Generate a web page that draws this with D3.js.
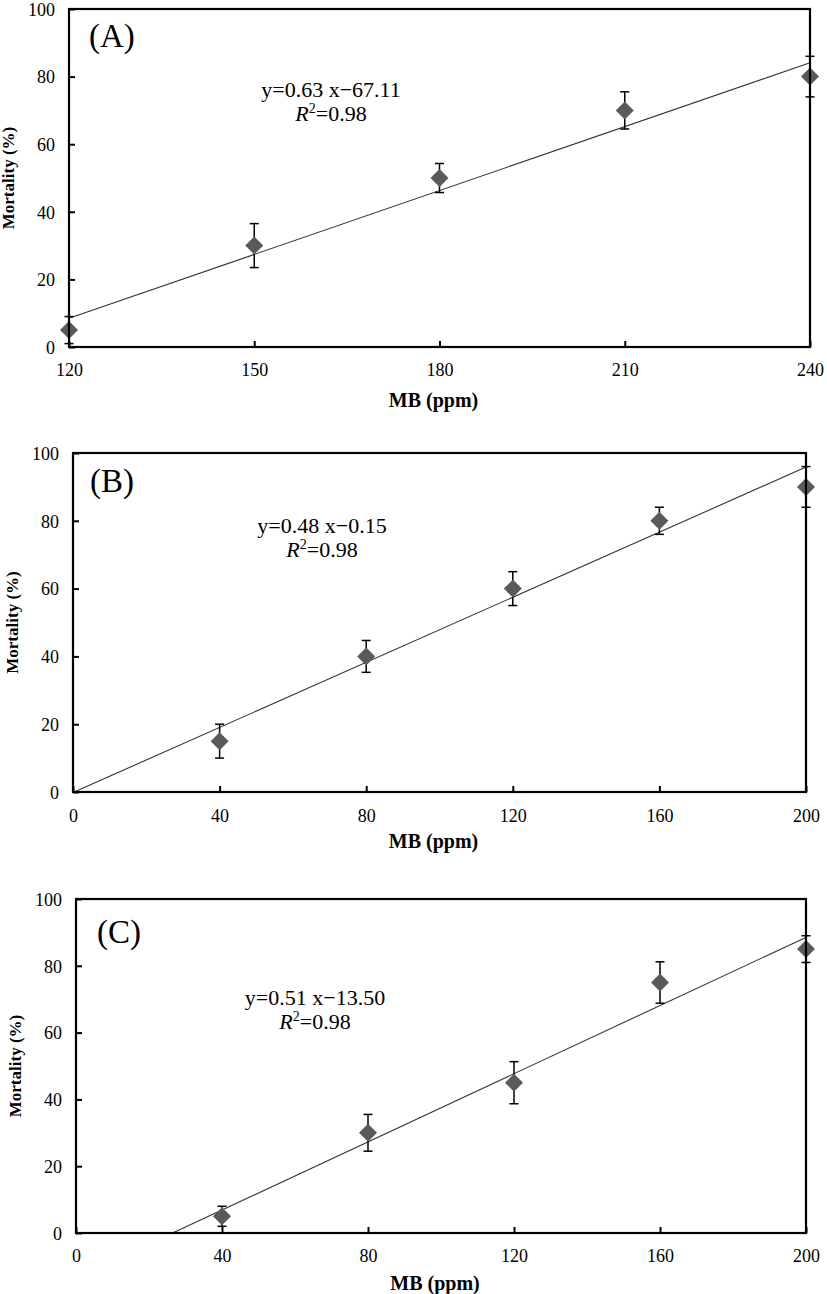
<!DOCTYPE html>
<html><head><meta charset="utf-8">
<script src="https://cdn.jsdelivr.net/npm/d3@7"></script>
<style>
html,body{margin:0;padding:0;background:#fff;}
svg text{font-family:"Liberation Serif","Times New Roman",serif;fill:#000;}
</style></head>
<body><svg id="chart" width="827" height="1294"></svg>
<script>
// ---------- data ----------
const panelLabels = ["(A)", "(B)", "(C)"];
const xTitle = "MB (ppm)";
const yTitle = "Mortality (%)";
const yTicks = [0, 20, 40, 60, 80, 100];

const xTicksA = [120, 150, 180, 210, 240];
const concA = [120, 150, 180, 210, 240];
const mortA = [5, 30, 50, 70, 80];
const errA = [4, 6.5, 4.3, 5.5, 6];

const xTicksB = [0, 40, 80, 120, 160, 200];
const concB = [40, 80, 120, 160, 200];
const mortB = [15, 40, 60, 80, 90];
const errB = [5, 4.7, 5, 4, 6];

const xTicksC = [0, 40, 80, 120, 160, 200];
const concC = [40, 80, 120, 160, 200];
const mortC = [5, 30, 45, 75, 85];
const errC = [3, 5.5, 6.3, 6.2, 4];

const slopes = [0.63, 0.48, 0.51];
const intercepts = [-67.11, -0.15, -13.50];
const eqTexts = ["y=0.63 x\u221267.11", "y=0.48 x\u22120.15", "y=0.51 x\u221213.50"];
const r2Value = "=0.98";

// ---------- layout ----------
const layouts = [
  {left: 69, right: 810, top: 9,   bottom: 347,  eqX: 331, eqY: 97,   labX: 89, labY: 47,  tickY: 376,  titleY: 407},
  {left: 73, right: 806, top: 453, bottom: 792,  eqX: 322, eqY: 533,  labX: 90, labY: 492, tickY: 822,  titleY: 848},
  {left: 76, right: 806, top: 899, bottom: 1233, eqX: 315, eqY: 1005, labX: 97, labY: 943, tickY: 1262, titleY: 1290}
];

const panels = [
  {xTicks: xTicksA, x: concA, y: mortA, e: errA},
  {xTicks: xTicksB, x: concB, y: mortB, e: errB},
  {xTicks: xTicksC, x: concC, y: mortC, e: errC}
];

const svg = d3.select("#chart");

panels.forEach((p, i) => {
  const L = layouts[i];
  const g = svg.append("g");
  const xs = d3.scaleLinear().domain(d3.extent(p.xTicks)).range([L.left, L.right]);
  const ys = d3.scaleLinear().domain([0, 100]).range([L.bottom, L.top]);

  // regression line
  const m = slopes[i], b = intercepts[i];
  const x0 = Math.max(xs.domain()[0], -b / m);
  const x1 = xs.domain()[1];
  g.append("line")
    .attr("x1", xs(x0)).attr("y1", ys(m * x0 + b))
    .attr("x2", xs(x1)).attr("y2", ys(m * x1 + b))
    .attr("stroke", "#333").attr("stroke-width", 1.1);

  // error bars
  const data = p.x.map((v, k) => ({x: v, y: p.y[k], e: p.e[k]}));
  const cap = 4.5;
  const eb = g.append("g").attr("stroke", "#000").attr("stroke-width", 1.5);
  data.forEach(d => {
    const cx = xs(d.x), yt = ys(d.y + d.e), yb = ys(d.y - d.e);
    eb.append("line").attr("x1", cx).attr("x2", cx).attr("y1", yt).attr("y2", yb);
    eb.append("line").attr("x1", cx - cap).attr("x2", cx + cap).attr("y1", yt).attr("y2", yt);
    eb.append("line").attr("x1", cx - cap).attr("x2", cx + cap).attr("y1", yb).attr("y2", yb);
  });

  // diamonds
  const r = 9;
  g.selectAll("path.pt").data(data).join("path")
    .attr("class", "pt")
    .attr("d", `M0,${-r}L${r},0L0,${r}L${-r},0Z`)
    .attr("transform", d => `translate(${xs(d.x)},${ys(d.y)})`)
    .attr("fill", "#5a5a5a");

  // frame
  g.append("rect")
    .attr("x", L.left).attr("y", L.top)
    .attr("width", L.right - L.left).attr("height", L.bottom - L.top)
    .attr("fill", "none").attr("stroke", "#000").attr("stroke-width", 2.2);

  // axes with inward ticks
  const xAxis = d3.axisBottom(xs).tickValues(p.xTicks).tickSizeInner(-6).tickSizeOuter(0).tickFormat(d3.format("d"));
  const gx = g.append("g").attr("transform", `translate(0,${L.bottom})`).call(xAxis)
    .attr("font-family", "Liberation Serif");
  gx.select(".domain").remove();
  gx.selectAll(".tick line").attr("stroke", "#000").attr("stroke-width", 2);
  gx.selectAll(".tick text").attr("y", L.tickY - L.bottom).attr("dy", 0)
    .attr("font-size", 18);

  const yAxis = d3.axisLeft(ys).tickValues(yTicks).tickSizeInner(-6).tickSizeOuter(0);
  const gy = g.append("g").attr("transform", `translate(${L.left},0)`).call(yAxis)
    .attr("font-family", "Liberation Serif");
  gy.select(".domain").remove();
  gy.selectAll(".tick line").attr("stroke", "#000").attr("stroke-width", 2);
  gy.selectAll(".tick text").attr("x", -14).attr("dy", "0.35em")
    .attr("font-size", 18);

  // titles
  g.append("text")
    .attr("x", (L.left + L.right) / 2 - 6).attr("y", L.titleY)
    .attr("text-anchor", "middle").attr("font-weight", "bold").attr("font-size", 20)
    .text(xTitle);
  g.append("text")
    .attr("transform", `translate(${L.left - 55},${(L.top + L.bottom) / 2}) rotate(-90)`)
    .attr("text-anchor", "middle").attr("font-weight", "bold").attr("font-size", 17)
    .text(yTitle);

  // panel label
  g.append("text").attr("x", L.labX).attr("y", L.labY)
    .attr("font-size", 33).text(panelLabels[i]);

  // equation
  g.append("text").attr("x", L.eqX).attr("y", L.eqY)
    .attr("text-anchor", "middle").attr("font-size", 22).text(eqTexts[i]);
  const r2 = g.append("text").attr("x", L.eqX).attr("y", L.eqY + 24)
    .attr("text-anchor", "middle").attr("font-size", 22);
  r2.append("tspan").attr("font-style", "italic").text("R");
  r2.append("tspan").attr("font-size", 14).attr("dy", -8).text("2");
  r2.append("tspan").attr("dy", 8).text(r2Value);
});
</script>
</body></html>
